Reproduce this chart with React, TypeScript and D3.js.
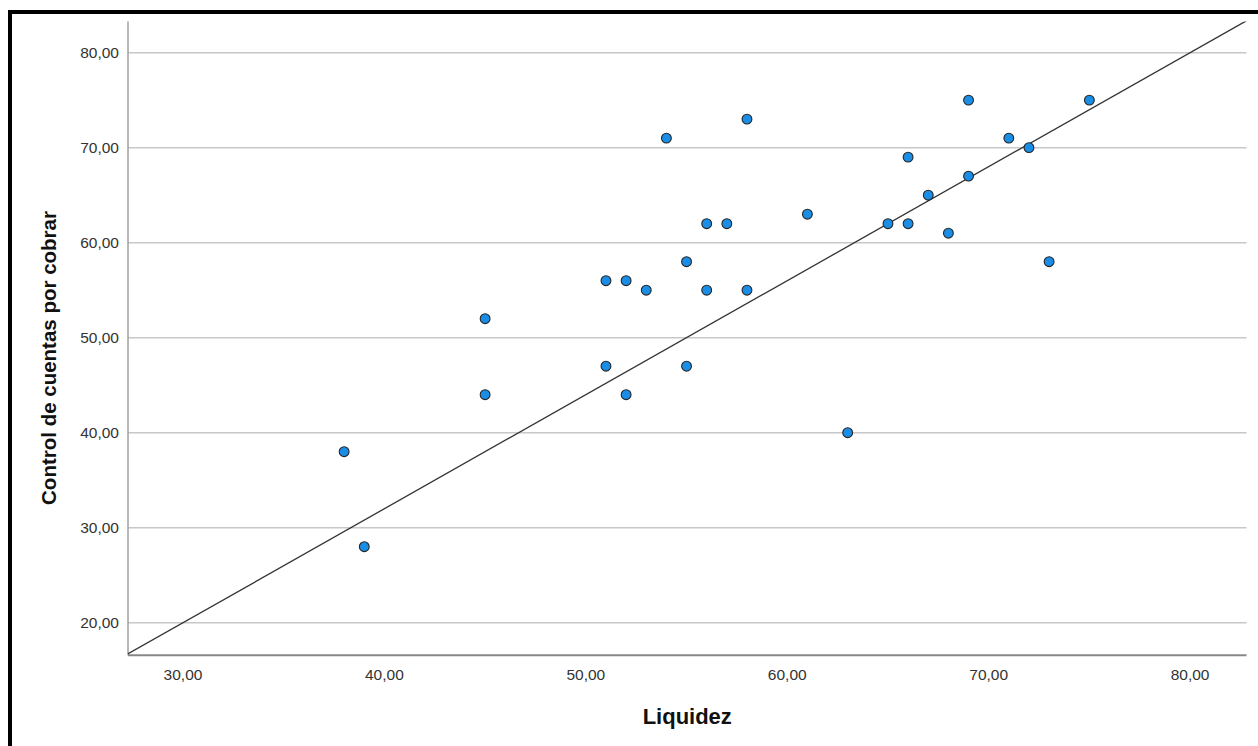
import React from 'react';
import * as d3 from 'd3';

// Liquidez (x) vs Control de cuentas por cobrar (y)
const liquidez = [38, 39, 45, 45, 51, 51, 52, 52, 53, 54, 55, 55, 56, 56, 57, 58, 58, 61, 63, 65, 66, 66, 67, 68, 69, 69, 71, 72, 73, 75];
const control = [38, 28, 52, 44, 56, 47, 56, 44, 55, 71, 58, 47, 62, 55, 62, 73, 55, 63, 40, 62, 69, 62, 65, 61, 75, 67, 71, 70, 58, 75];

const xTicks = [30, 40, 50, 60, 70, 80];
const yTicks = [20, 30, 40, 50, 60, 70, 80];
const xDomain = [27.27, 82.8];
const yDomain = [16.57, 83.28];

// reference line shown in the chart: y = a + b*x
const fitIntercept = -16;
const fitSlope = 1.2;

const WIDTH = 1258;
const HEIGHT = 746;
const LEFT = 128;
const RIGHT = 1246.5;
const TOP = 21.5;
const BOTTOM = 655.3;

const fmt = (n: number) => n.toFixed(2).replace('.', ',');

export default function App() {
  const xScale = d3.scaleLinear().domain(xDomain).range([LEFT, RIGHT]);
  const yScale = d3.scaleLinear().domain(yDomain).range([BOTTOM, TOP]);

  const points = liquidez.map((x, i) => ({ x, y: control[i] }));

  const fitLine = d3
    .line<number>()
    .x(d => xScale(d))
    .y(d => yScale(fitIntercept + fitSlope * d));
  const fitPath = fitLine([xDomain[0] - 1, xDomain[1] + 1]);

  const font = '"Liberation Sans", Arial, sans-serif';

  return (
    <svg
      width={WIDTH}
      height={HEIGHT}
      style={{ position: 'absolute', left: 0, top: 0, background: '#fff' }}
    >
      <defs>
        <clipPath id="plot">
          <rect x={LEFT} y={TOP} width={RIGHT - LEFT} height={BOTTOM - TOP} />
        </clipPath>
      </defs>
      <rect x={10} y={12} width={1400} height={900} fill="none" stroke="#000" strokeWidth={4} />

      {yTicks.map(t => (
        <g key={t}>
          <line x1={LEFT} x2={RIGHT} y1={yScale(t)} y2={yScale(t)} stroke="#c8c8c8" strokeWidth={1.5} />
          <text
            x={119}
            y={yScale(t)}
            dy="0.35em"
            textAnchor="end"
            fontFamily={font}
            fontSize={15.5}
            fill="#333"
          >
            {fmt(t)}
          </text>
        </g>
      ))}

      {xTicks.map(t => (
        <text
          key={t}
          x={xScale(t)}
          y={680}
          textAnchor="middle"
          fontFamily={font}
          fontSize={15.5}
          fill="#333"
        >
          {fmt(t)}
        </text>
      ))}

      <line x1={LEFT} x2={LEFT} y1={TOP} y2={BOTTOM} stroke="#a0a0a0" strokeWidth={1.5} />
      <line x1={LEFT} x2={RIGHT} y1={BOTTOM} y2={BOTTOM} stroke="#888" strokeWidth={2} />

      <path d={fitPath || ''} fill="none" stroke="#333" strokeWidth={1.3} clipPath="url(#plot)" />

      {points.map((p, i) => (
        <circle
          key={i}
          cx={xScale(p.x)}
          cy={yScale(p.y)}
          r={4.9}
          fill="#1a8de6"
          stroke="#262626"
          strokeWidth={1.1}
        />
      ))}

      <text
        x={(LEFT + RIGHT) / 2}
        y={724}
        textAnchor="middle"
        fontFamily={font}
        fontSize={22}
        fontWeight="bold"
        fill="#111"
      >
        Liquidez
      </text>
      <text
        transform={`translate(56, 358) rotate(-90)`}
        textAnchor="middle"
        fontFamily={font}
        fontSize={20.5}
        fontWeight="bold"
        fill="#111"
      >
        Control de cuentas por cobrar
      </text>
    </svg>
  );
}
